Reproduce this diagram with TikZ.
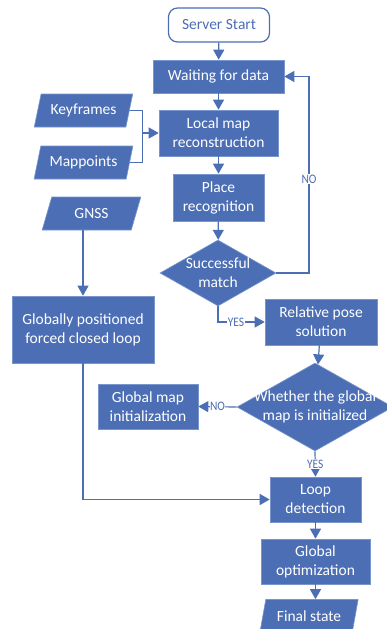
\documentclass[tikz,border=0pt]{standalone}
\usepackage{fontspec}
\setmainfont{Carlito}
\newfontfamily\lblfont[FakeStretch=0.88]{Carlito}
\usepackage{tikz}
\usetikzlibrary{arrows.meta,shapes.geometric,positioning}
\definecolor{flowblue}{RGB}{76,110,180}
\definecolor{flowedge}{RGB}{120,150,205}
\tikzstyle{every node}=[font=\fontsize{15.5}{19}\selectfont,align=center,inner sep=0pt]
\tikzstyle{proc}=[rectangle,fill=flowblue,draw=flowedge,line width=0.6pt,text=white]
\tikzstyle{io}=[trapezium,trapezium left angle=68,trapezium right angle=112,trapezium stretches=true,
  fill=flowblue,draw=flowedge,line width=0.6pt,text=white,minimum width=99pt,minimum height=33pt]
\tikzstyle{decide}=[diamond,fill=flowblue,draw=flowedge,line width=0.6pt]
\tikzstyle{lbl}=[fill=white,text=flowblue,font=\lblfont\fontsize{13}{14}\selectfont,inner sep=0.5pt]

\begin{document}
\begin{tikzpicture}[x=1pt,y=-1pt,>={Triangle[length=10pt,width=11pt]}]
\tikzset{every path/.style={draw=flowblue,line width=1.2pt}}
\useasboundingbox[draw=none] (0,0) rectangle (387,629);

\node[rectangle,rounded corners=9pt,draw=flowblue,line width=1.2pt,fill=white,text=flowblue,
  minimum width=101pt,minimum height=34pt] (start) at (219,25) {Server Start};
\node[proc,minimum width=131pt,minimum height=33pt] (wait) at (218.5,76.5) {Waiting for data};
\node[proc,minimum width=119pt,minimum height=46pt] (local) at (218.5,133) {Local map\\reconstruction};
\node[io] (keyf) at (83.5,110.5) {Keyframes};
\node[io] (mapp) at (83.5,162.5) {Mappoints};
\node[proc,minimum width=91pt,minimum height=47pt] (place) at (218.5,197.5) {Place\\recognition};
\node[io] (gnss) at (91.5,213.5) {GNSS};
\node[decide,minimum width=116pt,minimum height=66pt,
  label={[text=white]center:Successful\\match}] (match) at (218,273) {};
\node[proc,minimum width=142pt,minimum height=67pt] (glob) at (83,329.5) {Globally positioned\\forced closed loop};
\node[proc,minimum width=112pt,minimum height=46pt] (rel) at (321,322) {Relative pose\\solution};
\node[decide,minimum width=156pt,minimum height=88pt,
  label={[text=white]center:Whether the global\\map is initialized}] (init) at (315,407) {};
\node[proc,minimum width=100pt,minimum height=45pt] (gmi) at (148,406.5) {Global map\\initialization};
\node[proc,minimum width=91pt,minimum height=45pt] (loop) at (315.5,499.5) {Loop\\detection};
\node[proc,minimum width=109pt,minimum height=45pt] (opt) at (315.5,561.5) {Global\\optimization};
\node[io] (final) at (309,616) {Final state};

\coordinate[left=16pt of local.west] (merge);
\coordinate (back) at (309,76.5);

\draw[->] (start) -- (wait);
\draw[->] (wait) -- (local);
\draw (keyf.east) -| (merge) |- (mapp.east);
\draw[->] (merge) -- (local.west);
\draw[->] (local) -- (place);
\draw[->] (place) -- (match);
\draw[->] (match.east) -| (back) -- (wait.east);
\node[lbl] (no1) at (309,179) {NO};
\draw[->] (match.south) |- (rel.west);
\node[lbl] (yes1) at (236,322) {YES};
\draw[->] (rel) -- (init);
\draw[->] (init.west) -- node[lbl] (no2) {NO} (gmi.east);
\draw[->] (init.south) -- node[lbl] (yes2) {YES} (loop.north);
\draw[->] (gnss.south -| glob.north) -- (glob.north);
\draw[->] (glob.south) |- (loop.west);
\draw[->] (loop) -- (opt);
\draw[->] (opt.south) -- (opt.south |- final.north);
\end{tikzpicture}
\end{document}
